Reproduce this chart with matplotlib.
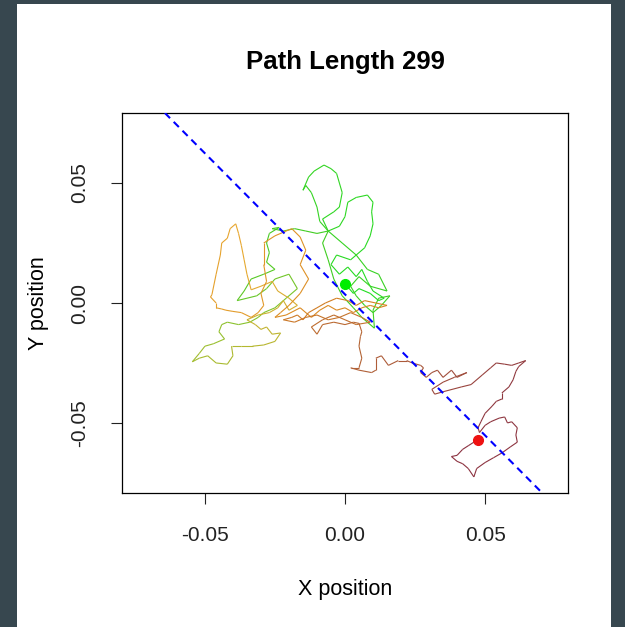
"""Random walk path coloured by step, with start/end markers and fitted trend line."""

import matplotlib.pyplot as plt
import numpy as np
from matplotlib.collections import LineCollection
from matplotlib.colors import LinearSegmentedColormap
from matplotlib.patches import Rectangle

plt.rcParams["font.family"] = ["Liberation Sans", "DejaVu Sans"]

TITLE = "Path Length 299"

# walk positions, in thousandths of a unit
path_x = np.array([
    0, 3, 5, 9, 12, 14, 10, 8, 6, 4, 1, -2, -5, -3, 2, 7, 9, 10, 9.5, 10,
    8, 4, 1, 0, -2, -6, -8, -4, -2, -1, -2, -3, -5, -7.5, -11, -13, -15, -14, -12, -10,
    -9, -6, -1, 4, 8, 12, 15, 9, 5, 2, 4, 7, 10, 13, 16, 12, 10, 10.5, 6, 3,
    -1, -4, -6, -8, -6, -10, -14, -18, -22, -26, -23.5, -27, -28, -27, -28, -25, -29, -33.5, -36, -38.5,
    -35, -31.5, -28, -25, -20, -17, -21, -25, -29,
    -31, -34, -38, -42, -44, -45, -43, -47, -50, -52, -54.5, -52, -49, -46, -42, -40, -40.5, -37, -33, -29,
    -25, -23, -26, -28, -30, -32, -35, -31, -27, -24, -22, -20, -17, -20, -24, -26, -30, -33.5,
    -35, -36, -37, -38, -39, -41, -42, -44, -44.5, -46, -47.5, -48, -46, -46, -44, -42.5, -40, -37, -33.5, -31,
    -29, -30, -28, -29, -29, -25, -19, -16, -14, -16, -13, -16, -20, -23, -25, -21,
    -16, -12, -9, -6, -3, 0, 3, 6, 9, 12, 15, 11, 7, 4, 1, -3, -7, -10, -13, -15,
    -17, -19, -22, -18, -14, -10, -6, -2, 2, 6, 9, 4, 0, -4, -8, -12,
    -10, -8, -4, 0, 3, 5, 6, 5.5, 5, 6, 5, 2, 5, 9.5, 11, 11, 13, 15.5, 19, 22,
    24, 27, 28, 27, 29, 31, 33, 35, 38, 40, 43.5, 39, 35, 31, 32, 35, 41.5,
    45, 49, 52, 54, 57, 59.5, 62, 64.5, 62, 61, 60, 58.5, 56, 56, 54, 52.5, 50, 48.5, 47.5, 48,
    50, 52, 55, 57, 58, 59.5, 61.5, 61, 61.5, 59, 56, 53, 50, 47, 46, 44, 42, 40, 38, 40,
    42, 44, 46, 47.5,
]) * 1e-3

path_y = np.array([
    8, 4, 6, 4, 1, 2, 5, 9, 14, 11, 15, 12, 16, 20, 18, 23, 28, 33, 38, 42,
    45, 44, 42, 36, 32, 30, 35, 38, 40, 46, 50, 54, 56, 57.5, 55, 52.5, 47, 49, 46, 40,
    34, 30, 25, 20, 14, 12, 5, 7, 11, 7, 3, -1, -4, -1, 3, 2, -3, -10.5, -6, -2,
    3, 10, 18, 25, 30, 29, 30, 31, 30, 31, 31.5, 29, 25, 21, 17, 14, 12, 10, 5, 1,
    2, 3, 6, 10, 12, 6, 2, -2, -4,
    -6, -8, -9, -8, -9, -12, -15, -17, -18, -21, -24.5, -23, -22, -25, -25.5, -22, -18, -18, -18, -17.5,
    -16, -12.5, -13, -10, -11, -9, -7, -5, -4, -2, 1, -3, -1, 2, 5, 9, 7, 5.5,
    12, 18, 24, 29, 33, 31, 27, 25, 20, 12, 3.5, 2.5, 0, -2, -2.5, -3, -3.5, -4, -6, -4,
    -1, 4, 9, 16, 25, 28, 31, 27.5, 22, 16, 10, 4, -1, -4, -6, -5,
    -2, -6, -3, -1, -3, -2, -4, -2, -1, -2, -1, 0, 1, -1, 1, 2, 0, -2, -4, -7,
    -5, -6, -7, -8, -6, -5, -7, -6, -4, -6, -8, -9, -7, -5, -7, -10,
    -13, -9, -8, -9, -8, -8.5, -12, -14, -18, -23, -27, -27, -28, -29, -28, -23, -22, -26, -24, -24,
    -25, -26, -27, -29, -31, -29, -28, -31, -28, -31, -29, -31, -33, -36, -38, -37, -35,
    -34, -30, -27, -25, -25.5, -26, -25, -24, -26.5, -28.5, -32, -35, -37.5, -40, -41, -43, -46, -49.5, -52, -54,
    -51, -49.5, -48, -47.5, -50, -49.5, -52, -55, -58, -60, -62.5, -64.5, -66.5, -69, -72.5, -69, -67, -66, -64, -63.5,
    -61, -59.5, -58, -57,
]) * 1e-3

# least-squares trend through the walk
trend_intercept = 0.0036
trend_slope = -1.176

ticks = [-0.05, 0.0, 0.05]
tick_labels = ["-0.05", "0.00", "0.05"]

# green -> yellow-green -> orange -> brown -> maroon along the walk
step_cmap = LinearSegmentedColormap.from_list(
    "walk",
    [
        (0.00, "#22dd22"),
        (0.25, "#44cc22"),
        (0.34, "#99c030"),
        (0.46, "#e8a830"),
        (0.62, "#d88420"),
        (0.76, "#b06038"),
        (0.88, "#903a40"),
        (1.00, "#8b3040"),
    ],
)

fig = plt.figure(figsize=(6.25, 6.27), dpi=100, facecolor="#37474f")
fig.patches.append(
    Rectangle((17 / 625, 0), 594 / 625, 623 / 627, transform=fig.transFigure,
              facecolor="white", edgecolor="none", zorder=-10)
)

ax = fig.add_axes([122 / 625, 1 - 493 / 627, 446 / 625, 380 / 627])

points = np.column_stack([path_x, path_y])
segments = np.stack([points[:-1], points[1:]], axis=1)
lines = LineCollection(segments, colors=step_cmap(np.linspace(0, 1, len(segments))),
                       linewidths=0.8)
ax.add_collection(lines)

ax.plot(path_x[0], path_y[0], "o", color="#00ee00", markersize=7, zorder=3)
ax.plot(path_x[-1], path_y[-1], "o", color="#ee1111", markersize=7, zorder=3)
ax.axline((0, trend_intercept), slope=trend_slope, color="#0000ff",
          linewidth=1.5, dashes=(3.5, 2.5), zorder=4)

ax.set_xlim(-0.0796, 0.0796)
ax.set_ylim(-0.0792, 0.0792)
ax.set_xticks(ticks, tick_labels)
ax.set_yticks(ticks, tick_labels)
ax.tick_params(labelsize=15, length=8, width=0.8, pad=16, colors="#222222")
plt.setp(ax.get_yticklabels(), rotation=90, va="center")
for spine in ax.spines.values():
    spine.set_linewidth(0.9)

ax.set_title(TITLE, fontsize=18.5, fontweight="bold", pad=32)
ax.set_xlabel("X position", fontsize=15.5, labelpad=24)
ax.set_ylabel("Y position", fontsize=15.5, labelpad=15)

fig.savefig("out.png", dpi=100, facecolor=fig.get_facecolor())
